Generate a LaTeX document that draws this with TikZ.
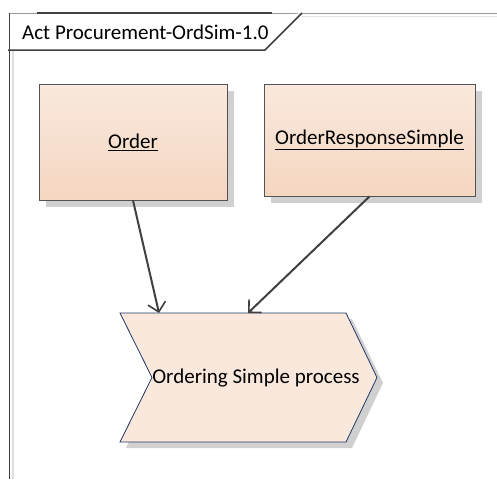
\documentclass[tikz,border=0pt]{standalone}
\usepackage{fontspec}
\setmainfont{Carlito}
\usetikzlibrary{arrows.meta,shadows}
\definecolor{boxtop}{HTML}{FAE9DE}
\definecolor{boxbot}{HTML}{F5D6C0}
\definecolor{chevfill}{HTML}{FBE8DD}
\definecolor{chevline}{HTML}{1F3864}
\definecolor{shadowgray}{HTML}{D0D0D0}
\definecolor{linegray}{HTML}{404040}
\tikzset{
  classbox/.style={draw=linegray!90, line width=0.9pt, top color=boxtop, bottom color=boxbot,
    minimum width=188pt, inner sep=0pt, font=\fontsize{21}{25}\selectfont,
    drop shadow={shadow xshift=7pt, shadow yshift=-7pt, fill=shadowgray, opacity=1}},
  flow/.style={draw=linegray, line width=2pt, -{Straight Barb[length=9pt,width=18pt,line width=1.6pt]}},
  lbl/.style={font=\fontsize{21}{25}\selectfont, inner sep=0pt}
}
\begin{document}
\begin{tikzpicture}[x=1pt,y=-1pt]
\useasboundingbox (0,0) rectangle (497,479);
% frame
\draw[line width=1.2pt, draw=gray!80] (9,13.5) -- (497,13.5);
\draw[line width=1.2pt, draw=gray!20] (302,16.5) -- (497,16.5);
\draw[line width=1.5pt, draw=linegray] (9.5,13) -- (9.5,479);
\draw[line width=1.2pt, draw=gray!25] (13,50) -- (13,479);
% tab
\draw[line width=1.5pt, draw=linegray, fill=white] (8,50) -- (265,50) -- (302,13);
\draw[line width=1.6pt, draw=linegray] (37,13) -- (272,13);
\node[lbl, anchor=west] (title) at (22,32) {Act Procurement-OrdSim-1.0};
% class boxes
\node[classbox, minimum width=188pt, minimum height=116pt] (order) at (133,142) {\underline{Order}};
\node[classbox, minimum width=211pt, minimum height=112pt] (ors) at (369.5,140) {\underline{OrderResponseSimple}};
% chevron
\fill[shadowgray] (126,319) -- (352,319) -- (383,383) -- (352,448) -- (126,448) -- (158,383) -- cycle;
\draw[draw=chevline, line width=0.8pt, fill=chevfill] (120,313) -- (346,313) -- (377,377.5) -- (346,442) -- (120,442) -- (152,377.5) -- cycle;
\node[lbl] (proc) at (256,378) {Ordering Simple process};
\coordinate (in1) at (159,313);
\coordinate (in2) at (248,313);
% connectors
\draw[flow] (order.south) -- (in1);
\draw[flow] (ors.south) -- (in2);
\end{tikzpicture}
\end{document}
